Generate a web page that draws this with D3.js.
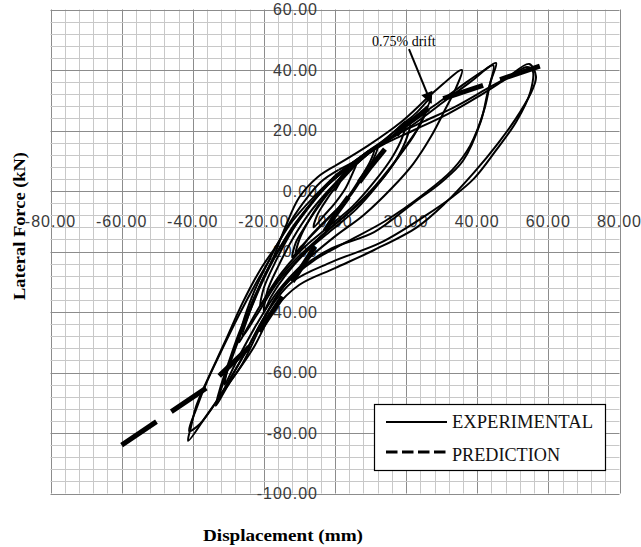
<!DOCTYPE html>
<html>
<head>
<meta charset="utf-8">
<script src="https://cdn.jsdelivr.net/npm/d3@7/dist/d3.min.js"></script>
<style>
  body { margin: 0; background: #fff; }
</style>
</head>
<body>
<svg id="chart" width="641" height="547"></svg>
<script>
// axis ticks
var xTicks = [-80, -60, -40, -20, 0, 20, 40, 60, 80];
var yTicks = [60, 40, 20, 0, -20, -40, -60, -80, -100];

var cycle1 = [[0,0],[2,4],[4,7],[6,9],[5,6],[3,1],[0,-4],[-3,-8],[-6,-12],[-5,-8],[-3,-4],[0,1],[3,5]];
var cycle2 = [[3,5],[7,10],[10,13],[12,15],[11,11],[8,5],[4,-2],[-1,-8],[-6,-14],[-10,-19],[-12,-22],[-11,-17],[-8,-11],[-4,-4],[0,2]];
var cycle2b = [[0,2],[4,8],[8,12],[11,14],[10,10],[7,4],[3,-3],[-2,-9],[-7,-15],[-11,-21],[-10,-16],[-7,-9],[-3,-2],[1,3]];
var cycle3 = [[1,3],[5,8],[9,12],[13,16],[17,20],[20,23],[19,18],[16,11],[11,3],[5,-5],[-2,-12],[-9,-19],[-15,-27],[-19,-34],[-21,-38],[-20,-32],[-17,-24],[-13,-15],[-8,-6],[-3,1],[2,6]];
var cycle3b = [[2,6],[6,9],[11,14],[16,18],[21,22],[20,17],[17,10],[12,2],[6,-6],[-1,-13],[-8,-20],[-14,-28],[-18,-35],[-20,-40],[-19,-33],[-16,-25],[-12,-16],[-7,-7],[-2,0],[2,5]];
var cycle4 = [[2,5],[8,12],[14,17],[19,22],[23,26],[26.5,30.5],[27,31],[25,25],[22,18],[17,10],[10,0],[3,-8],[-5,-16],[-13,-25],[-20,-36],[-25,-46],[-27,-50],[-26,-44],[-23,-34],[-19,-24],[-14,-13],[-9,-4],[-4,3],[1,7]];
var cycle4b = [[1,7],[9,12],[15,17],[20,22],[25,27],[26,28],[24,22],[20,15],[14,5],[7,-4],[-1,-12],[-9,-21],[-16,-30],[-22,-41],[-26,-48],[-24,-40],[-21,-31],[-17,-21],[-14,-12],[-10,-2],[-5,4.5],[0,8.3]];
var cycle5 = [[0,8.3],[9.3,15],[18.6,22.8],[27.8,32.7],[35.7,40],[34,34],[31,27],[27,18],[22,9],[16,1],[8,-8],[0,-15],[-9,-24],[-16,-33],[-22,-44],[-28,-57],[-31,-64],[-30,-58],[-27,-48],[-23,-36],[-18,-24],[-12,-12],[-6,-3],[0,5]];
var cycle6 = [[0,5],[8,12],[16,18],[24,25],[30,30],[37,36],[42,40],[45.3,42.3],[44,37],[43,33],[41,23],[36,10],[30,3],[22,-4],[11,-13.6],[-1,-19],[-9,-25],[-16,-34],[-21,-45],[-26,-57],[-30,-64],[-33.5,-71],[-32.5,-66],[-30,-57],[-27,-47],[-23,-36],[-19,-26],[-14,-16],[-8,-6],[-2,2]];
var cycle7 = [[-2,2],[6,10],[14,16],[22,22],[30,29],[38,36],[44.5,41.5],[43.5,35],[42,27],[38,15],[33,7],[25,-1],[14,-10],[3,-17],[-6,-23],[-14,-31],[-20,-42],[-25,-53],[-29,-61],[-32.6,-68],[-31,-62],[-28,-52],[-24,-40],[-20,-29],[-15,-18],[-9,-8],[-3,1]];
var cycle8 = [[-3,1],[5,9],[13,15],[22,20],[31.8,25.5],[40,31],[48,37],[54.6,42],[56.5,38],[55.7,34],[52,26],[46,16],[39,6],[31,-4],[23,-12],[11,-19.5],[0,-25.5],[-10,-31],[-17,-39],[-23,-52],[-30,-64],[-36,-74],[-41.3,-82.6],[-40.5,-78],[-39,-71],[-36.8,-64.8],[-31,-50],[-26,-37],[-21,-26],[-17,-19],[-12,-10],[-6,-2],[0,5]];
var cycle9 = [[0,5],[8,12],[16,18],[25,23],[34,28],[43,34],[50,38.5],[54,41],[55.5,40],[55,33],[51,23],[45,13],[39,4],[33,-2],[25,-8.5],[13,-17],[-1,-23.5],[-12,-30],[-19,-40],[-26,-55],[-33,-69],[-38,-77],[-41,-79.3],[-39,-72],[-36,-63],[-32,-53],[-27,-41],[-22,-30],[-18,-22]];
var cycles = [cycle1, cycle2, cycle2b, cycle3, cycle3b, cycle4, cycle4b, cycle5, cycle6, cycle7, cycle8, cycle9];

// predicted backbone
var prediction = [[-60,-84],[-36,-65],[-24.5,-52],[-12,-30],[0,-8],[10,8],[19,21],[30,30.4],[41,34.7],[57.6,41.3]];

var legendLabels = ['EXPERIMENTAL', 'PREDICTION'];
var noteText = '0.75% drift';
var noteAt = [10.4, 47.9];      // where the text sits
var noteArrow = [[20.8,46.9],[27,29.1]];

var svg = d3.select('#chart');
svg.append('rect').attr('width', 641).attr('height', 547).attr('fill', '#fff');

var xScale = d3.scaleLinear().domain([-80, 80]).range([50.5, 619.5]);
var yScale = d3.scaleLinear().domain([60, -100]).range([9.5, 493.5]);

// minor grid every 4, major every 20
var grid = svg.append('g');
grid.selectAll('.vx').data(d3.range(-80, 81, 4)).enter().append('line')
  .attr('x1', function(d){ return Math.round(xScale(d)) + 0.5; })
  .attr('x2', function(d){ return Math.round(xScale(d)) + 0.5; })
  .attr('y1', yScale(60)).attr('y2', yScale(-100))
  .attr('stroke', function(d){ return d % 20 === 0 ? '#8c8c8c' : '#c8c8c8'; })
  .attr('stroke-width', 1);
grid.selectAll('.hy').data(d3.range(-100, 61, 4)).enter().append('line')
  .attr('y1', function(d){ return Math.round(yScale(d)) + 0.5; })
  .attr('y2', function(d){ return Math.round(yScale(d)) + 0.5; })
  .attr('x1', xScale(-80)).attr('x2', xScale(80))
  .attr('stroke', function(d){ return d % 20 === 0 ? '#8c8c8c' : '#c8c8c8'; })
  .attr('stroke-width', 1);

// tick labels (axes cross at the origin)
var tickFont = '"Liberation Sans", Arial, sans-serif';
svg.append('g').selectAll('text').data(yTicks).enter().append('text')
  .attr('x', xScale(0) - 17)
  .attr('y', function(d){ return yScale(d); })
  .attr('dy', '0.36em')
  .attr('text-anchor', 'end')
  .attr('font-family', tickFont).attr('font-size', 16).attr('letter-spacing', 1)
  .attr('fill', '#3a3a3a')
  .text(function(d){ return d.toFixed(2); });
svg.append('g').selectAll('text').data(xTicks).enter().append('text')
  .attr('x', function(d){ return xScale(d); })
  .attr('y', yScale(0) + 30)
  .attr('dy', '0.36em')
  .attr('text-anchor', 'middle')
  .attr('font-family', tickFont).attr('font-size', 16).attr('letter-spacing', 1)
  .attr('fill', '#3a3a3a')
  .text(function(d){ return d.toFixed(2); });

// experimental loops
var line = d3.line()
  .x(function(d){ return xScale(d[0]); })
  .y(function(d){ return yScale(d[1]); })
  .curve(d3.curveCatmullRom.alpha(0.5));

svg.append('g').selectAll('path').data(cycles).enter().append('path')
  .attr('d', line)
  .attr('fill', 'none')
  .attr('stroke', '#000')
  .attr('stroke-width', 2);

// prediction, dashed so that both ends get a full dash
var pred = svg.append('path')
  .attr('d', d3.line().x(function(d){ return xScale(d[0]); }).y(function(d){ return yScale(d[1]); })(prediction))
  .attr('fill', 'none')
  .attr('stroke', '#000')
  .attr('stroke-width', 5);
var L = pred.node().getTotalLength();
var n = Math.round((L - 42) / 61);
var gap = (L - 42 * (n + 1)) / n;
pred.attr('stroke-dasharray', '42,' + gap);

// annotation
svg.append('defs').append('marker')
  .attr('id', 'head').attr('viewBox', '0 0 10 10')
  .attr('refX', 9).attr('refY', 5)
  .attr('markerWidth', 7).attr('markerHeight', 6)
  .attr('markerUnits', 'strokeWidth')
  .attr('orient', 'auto')
  .append('path').attr('d', 'M0,0L10,5L0,10Z').attr('fill', '#000');

svg.append('line')
  .attr('x1', xScale(noteArrow[0][0])).attr('y1', yScale(noteArrow[0][1]))
  .attr('x2', xScale(noteArrow[1][0])).attr('y2', yScale(noteArrow[1][1]))
  .attr('stroke', '#000').attr('stroke-width', 2)
  .attr('marker-end', 'url(#head)');

svg.append('text')
  .attr('x', xScale(noteAt[0])).attr('y', yScale(noteAt[1]))
  .attr('font-family', '"Liberation Serif", serif').attr('font-size', 14)
  .text(noteText);

// legend
var lg = svg.append('g');
lg.append('rect').attr('x', 374.5).attr('y', 404.5).attr('width', 231).attr('height', 66)
  .attr('fill', '#fff').attr('stroke', '#000').attr('stroke-width', 1.2);
lg.selectAll('line').data(legendLabels).enter().append('line')
  .attr('x1', 386).attr('x2', 447)
  .attr('y1', function(d, i){ return 422 + i * 30; })
  .attr('y2', function(d, i){ return 422 + i * 30; })
  .attr('stroke', '#000')
  .attr('stroke-width', function(d, i){ return i ? 3 : 2; })
  .attr('stroke-dasharray', function(d, i){ return i ? '11.5,4.5' : null; });
lg.selectAll('text').data(legendLabels).enter().append('text')
  .attr('x', 452)
  .attr('y', function(d, i){ return 428 + i * 33; })
  .attr('font-family', '"Liberation Serif", serif').attr('font-size', 18)
  .attr('fill', '#111')
  .attr('textLength', function(d, i){ return i ? 108 : 141; })
  .attr('lengthAdjust', 'spacingAndGlyphs')
  .text(function(d){ return d; });

// axis titles
svg.append('text')
  .attr('x', 283).attr('y', 541)
  .attr('text-anchor', 'middle')
  .attr('font-family', '"Liberation Serif", serif').attr('font-weight', 'bold').attr('font-size', 17)
  .attr('textLength', 160).attr('lengthAdjust', 'spacingAndGlyphs')
  .text('Displacement (mm)');
svg.append('text')
  .attr('transform', 'translate(25,226) rotate(-90)')
  .attr('text-anchor', 'middle')
  .attr('font-family', '"Liberation Serif", serif').attr('font-weight', 'bold').attr('font-size', 17)
  .attr('textLength', 148).attr('lengthAdjust', 'spacingAndGlyphs')
  .text('Lateral Force (kN)');
</script>
</body>
</html>
